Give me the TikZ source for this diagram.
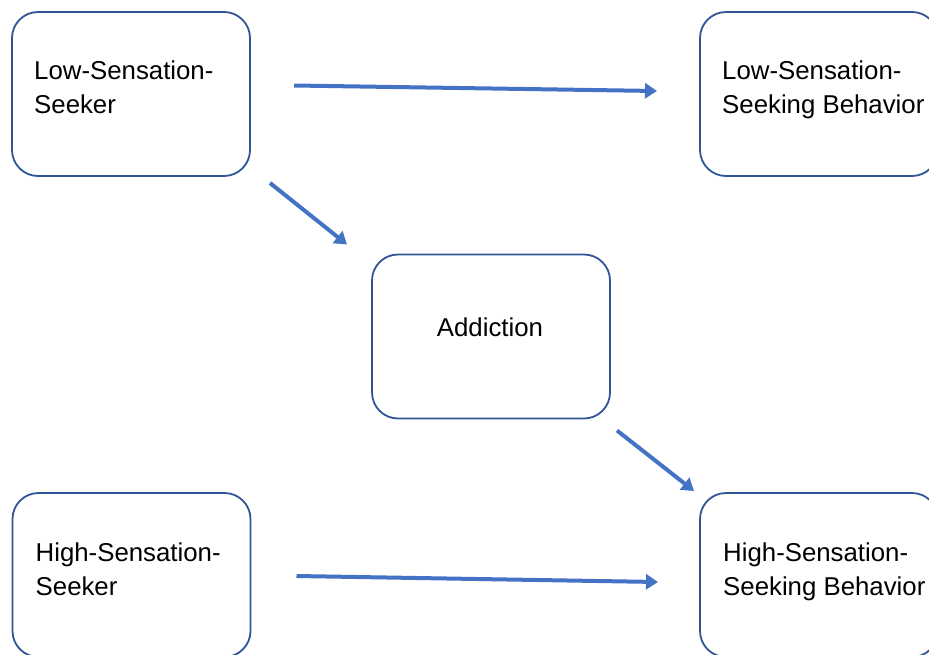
\documentclass[tikz,border=0pt]{standalone}
\usepackage{fontspec}
\setmainfont{Liberation Sans}
\usetikzlibrary{arrows.meta}
\definecolor{boxblue}{HTML}{2F5597}
\definecolor{arrowblue}{HTML}{4472C4}

\begin{document}
\begin{tikzpicture}[x=1pt, y=-1pt,
    box/.style={draw=boxblue, line width=1.8pt, rounded corners=26pt, minimum width=238pt, minimum height=164pt, inner sep=0pt, outer sep=0pt},
    txt/.style={align=left, inner sep=0pt, anchor=base west, font=\fontsize{25.8}{34.5}\selectfont},
    link/.style={arrowblue, line width=4pt, -{Triangle[length=12pt, width=15pt]}}]
    \useasboundingbox (0,0) rectangle (929,654);
    \clip (0,0) rectangle (929,654);

    % Boxes
    \node[box] (lss) at (131,94) {};
    \node[box] (lsb) at (819,94) {};
    \node[box] (add) at (491,336.5) {};
    \node[box] (hss) at (131.5,575) {};
    \node[box] (hsb) at (819,575) {};

    % Texts (base = last line)
    \node[txt] (lsst) at ([xshift=22pt, yshift=-101.5pt]lss.north west) {Low-Sensation-\\Seeker};
    \node[txt] (lsbt) at ([xshift=22pt, yshift=-101.5pt]lsb.north west) {Low-Sensation-\\Seeking Behavior};
    \node[txt, anchor=base] (addt) at ([xshift=-1pt, yshift=-82pt]add.north) {Addiction};
    \node[txt] (hsst) at ([xshift=23pt, yshift=-102.5pt]hss.north west) {High-Sensation-\\Seeker};
    \node[txt] (hsbt) at ([xshift=23pt, yshift=-102.5pt]hsb.north west) {High-Sensation-\\Seeking Behavior};

    % Arrows
    \draw[link] ([xshift=44pt, yshift=8.5pt]lss.east) -- ([xshift=-43pt, yshift=3pt]lsb.west);
    \draw[link] ([xshift=20pt, yshift=-7pt]lss.south east) -- ([xshift=-25pt, yshift=10pt]add.north west);
    \draw[link] ([xshift=7pt, yshift=-12pt]add.south east) -- ([xshift=-6pt, yshift=2pt]hsb.north west);
    \draw[link] ([xshift=46pt, yshift=-1pt]hss.east) -- ([xshift=-42pt, yshift=-7pt]hsb.west);
\end{tikzpicture}
\end{document}
